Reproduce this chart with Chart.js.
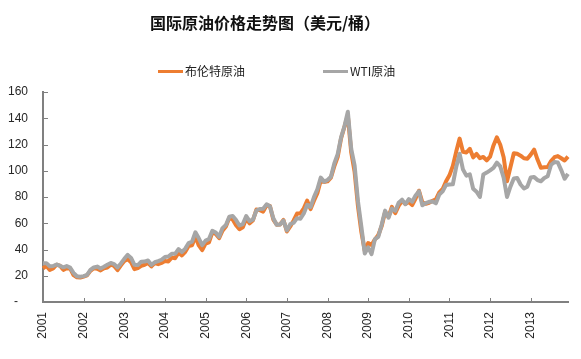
<!DOCTYPE html>
<html lang="zh">
<head>
  <meta charset="UTF-8" />
  <title>国际原油价格走势图</title>
  <script src="https://cdn.jsdelivr.net/npm/chart.js"></script>
  <style>
    body { margin: 0; background: #fff; }
    #wrap { position: relative; width: 581px; height: 359px; }
    #chart { position: absolute; left: 0; top: 0; }
    .title {
      position: absolute; left: 0; width: 530px; top: 12px;
      text-align: center; font: bold 16px/20px "Noto Sans CJK SC", sans-serif; color: #111;
    }
    .item { position: absolute; top: 63px; font: 12px/16px "Noto Sans CJK SC", "Liberation Sans", sans-serif; color: #222; }
    .item i { display: inline-block; width: 25px; height: 3px; vertical-align: middle; margin-right: 2px; position: relative; top: -1px; }
  </style>
</head>
<body>
  <div id="wrap">
    <canvas id="chart" width="581" height="359"></canvas>
    <div class="title">国际原油价格走势图（美元/桶）</div>
    <div class="item" style="left:158px"><i style="background:#ED7D31"></i>布伦特原油</div>
    <div class="item" style="left:323px"><i style="background:#A6A6A6"></i>WTI原油</div>
  </div>

  <script>
    const years = [2001, 2002, 2003, 2004, 2005, 2006, 2007, 2008, 2009, 2010, 2011, 2012, 2013];
    const months = ['01', '02', '03', '04', '05', '06', '07', '08', '09', '10', '11', '12'];

    // 布伦特原油，月度（美元/桶）
    const brent = [
      25.6, 27.5, 24.5, 25.6, 28.4, 27.7, 24.5, 25.7, 25.6, 20.5, 18.9, 18.6,
      19.4, 20.3, 23.7, 25.7, 25.4, 24.1, 25.7, 26.3, 28.4, 27.5, 24.3, 28.0,
      31.2, 32.8, 30.3, 25.0, 25.8, 27.6, 28.4, 29.8, 27.1, 29.6, 28.8, 29.8,
      31.2, 30.9, 33.8, 33.4, 37.6, 35.5, 38.2, 42.7, 43.2, 49.8, 43.1, 39.6,
      44.5, 45.5, 53.1, 51.9, 48.7, 54.3, 57.5, 64.1, 62.9, 58.5, 55.4, 56.9,
      63.6, 59.9, 62.3, 70.4, 70.0, 68.9, 73.7, 73.2, 62.8, 58.9, 59.1, 62.5,
      53.7, 57.6, 62.1, 67.4, 67.5, 71.3, 77.2, 70.8, 77.1, 82.9, 92.5, 91.5,
      91.9, 94.8, 103.3, 110.4, 124.6, 133.5, 142.0, 113.9, 99.1, 72.8, 53.2, 39.0,
      44.9, 43.4, 47.7, 51.0, 57.9, 68.6, 64.9, 72.5, 67.7, 73.2, 77.0, 74.7,
      76.2, 73.8, 78.8, 84.8, 75.9, 74.8, 75.6, 77.1, 78.2, 83.5, 86.1, 92.0,
      96.5, 103.7, 114.6, 124.5, 114.5, 113.9, 116.7, 110.2, 112.8, 109.6, 110.5, 107.9,
      110.7, 119.3, 125.5, 119.8, 110.3, 92.0, 102.6, 113.4, 113.0, 111.5, 109.5, 109.2,
      112.3, 116.1, 108.5, 102.3, 102.6, 102.9, 107.4, 110.3, 111.2, 109.5, 107.8, 110.8
    ];

    // WTI原油，月度（美元/桶）
    const wti = [
      29.6, 29.6, 27.2, 27.4, 28.6, 27.6, 26.4, 27.4, 26.2, 22.2, 19.6, 19.3,
      19.7, 20.7, 24.4, 26.3, 27.0, 25.5, 26.9, 28.4, 29.7, 28.9, 26.3, 29.4,
      32.9, 35.9, 33.6, 28.3, 28.1, 30.7, 30.8, 31.6, 28.3, 30.3, 31.1, 32.2,
      34.3, 34.7, 36.7, 36.7, 40.3, 38.0, 40.7, 44.9, 46.0, 53.1, 48.5, 43.3,
      46.8, 48.0, 54.3, 53.0, 49.8, 56.3, 58.7, 65.0, 65.6, 62.4, 58.3, 59.4,
      65.5, 61.6, 62.9, 69.7, 70.9, 71.0, 74.4, 73.0, 63.8, 58.9, 59.1, 62.0,
      54.5, 59.3, 60.4, 63.9, 63.5, 67.5, 74.1, 72.4, 79.9, 85.8, 94.8, 91.7,
      93.0, 95.4, 105.5, 112.6, 125.4, 133.9, 145.0, 116.7, 104.1, 76.6, 57.3, 37.0,
      41.7, 36.5, 47.9, 49.7, 59.0, 69.6, 64.2, 71.1, 69.4, 75.7, 78.0, 74.5,
      78.3, 76.4, 81.2, 84.3, 73.7, 75.3, 76.3, 76.6, 75.2, 81.9, 84.3, 89.2,
      89.6, 89.7, 102.9, 113.0, 100.9, 96.3, 97.3, 86.3, 84.0, 80.0, 97.2, 98.6,
      100.3, 102.2, 106.2, 103.3, 94.7, 80.0, 87.9, 94.1, 94.5, 89.5, 86.5, 87.9,
      94.8, 95.3, 92.9, 92.0, 94.5, 95.8, 104.6, 106.6, 106.3, 100.5, 93.9, 97.6
    ];

    const labels = years.flatMap(y => months.map(m => y + '-' + m));

    // 刻度线画在坐标轴内侧
    const innerTicks = {
      id: 'innerTicks',
      afterDraw(chart) {
        const { ctx, scales: { x, y } } = chart;
        ctx.save();
        ctx.strokeStyle = '#808080';
        ctx.lineWidth = 1;
        ctx.beginPath();
        x.ticks.forEach((t, i) => {
          if (!labels[t.value].endsWith('-01')) return;
          const px = Math.round(x.getPixelForTick(i)) + 0.5;
          ctx.moveTo(px, x.top);
          ctx.lineTo(px, x.top - 4);
        });
        y.ticks.forEach(t => {
          if (t.value === 0) return;
          const py = Math.round(y.getPixelForValue(t.value)) + 0.5;
          ctx.moveTo(y.right, py);
          ctx.lineTo(y.right + 5, py);
        });
        ctx.stroke();
        ctx.restore();
      }
    };

    const tickFont = { family: '"Liberation Sans", Arial, sans-serif', size: 12 };

    new Chart(document.getElementById('chart'), {
      type: 'line',
      data: {
        labels: labels,
        datasets: [
          { label: '布伦特原油', data: brent, borderColor: '#ED7D31', borderWidth: 4, order: 1 },
          { label: 'WTI原油', data: wti, borderColor: '#A6A6A6', borderWidth: 4, order: 0 }
        ]
      },
      options: {
        responsive: false,
        animation: false,
        elements: { point: { radius: 0 }, line: { tension: 0, borderJoinStyle: 'round' } },
        layout: { padding: { top: 92, left: 8, right: 13, bottom: 20 } },
        plugins: { legend: { display: false }, title: { display: false }, tooltip: { enabled: false } },
        scales: {
          x: {
            offset: false,
            grid: { display: false, drawTicks: false },
            border: { color: '#808080', width: 2 },
            afterFit: s => { s.height = 37; s.paddingLeft = 0; s.paddingRight = 0; },
            ticks: {
              autoSkip: false, minRotation: 90, maxRotation: 90, padding: 10,
              color: '#262626', font: tickFont,
              callback: function (v) {
                const l = labels[v];
                return l.endsWith('-01') ? l.slice(0, 4) : '';
              }
            }
          },
          y: {
            min: 0, max: 160,
            grid: { display: false, drawTicks: false },
            border: { color: '#808080', width: 2 },
            afterFit: s => { s.width = 35; },
            ticks: {
              stepSize: 20, padding: 15, color: '#262626', font: tickFont,
              callback: v => v === 0 ? '-   ' : v
            }
          }
        }
      },
      plugins: [innerTicks]
    });
  </script>
</body>
</html>
